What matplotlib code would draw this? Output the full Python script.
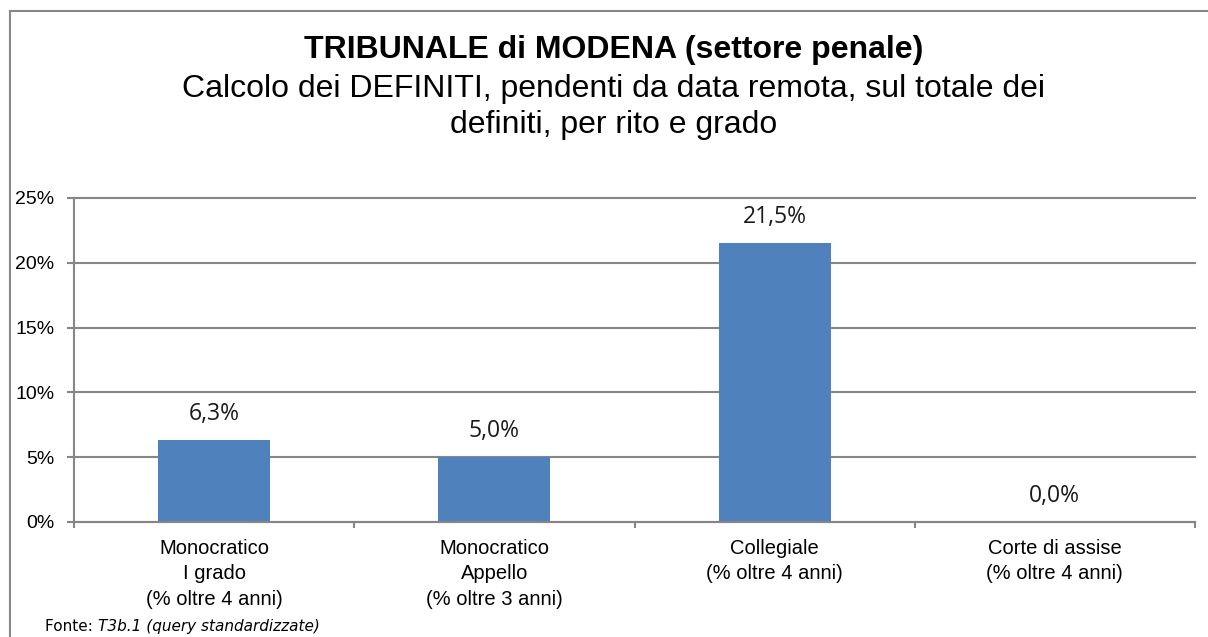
import matplotlib
matplotlib.use("Agg")
import matplotlib.pyplot as plt
from matplotlib.lines import Line2D
from matplotlib.ticker import FuncFormatter
from matplotlib.transforms import offset_copy

categories = ["Monocratico\nI grado\n(% oltre 4 anni)",
              "Monocratico\nAppello\n(% oltre 3 anni)",
              "Collegiale\n(% oltre 4 anni)",
              "Corte di assise\n(% oltre 4 anni)"]
values = [6.3, 5.0, 21.5, 0.0]
yticks = [0, 5, 10, 15, 20, 25]
title = "TRIBUNALE di MODENA (settore penale)"
subtitle_lines = ["Calcolo dei DEFINITI, pendenti da data remota, sul totale dei",
                  "definiti, per rito e grado"]

W, H = 1208, 637
fig = plt.figure(figsize=(W / 100, H / 100), dpi=100)
fig.patch.set_facecolor("white")

grid_col = "#868686"
ax = fig.add_axes([74 / W, 1 - 522 / H, (1195 - 74) / W, (522 - 198) / H])
x = list(range(len(categories)))
ax.bar(x, values, width=0.4, color="#4F81BD", zorder=3)
ax.set_xlim(-0.5, len(categories) - 0.5)
ax.set_ylim(0, 25)
ax.set_yticks(yticks)
ax.yaxis.set_major_formatter(FuncFormatter(lambda v, p: f"{int(v)}%"))
ax.grid(axis="y", color=grid_col, lw=1.5, zorder=0)
for gl in ax.get_ygridlines():
    gl.set_clip_on(False)
for s in ["top", "right"]:
    ax.spines[s].set_visible(False)
for s in ["left", "bottom"]:
    ax.spines[s].set_color(grid_col)
    ax.spines[s].set_linewidth(1.5)
ax.spines["bottom"].set_zorder(4)

ax.set_xticks(x)
ax.set_xticklabels(categories, fontsize=14.5, family="Liberation Sans", linespacing=1.44)
ax.tick_params(axis="x", length=0, pad=12)
ax.set_xticks([i - 0.5 for i in range(len(categories) + 1)], minor=True)
ax.tick_params(axis="x", which="minor", length=4.5, width=1.5, color=grid_col, direction="out")
ax.tick_params(axis="y", length=5, width=1.5, color=grid_col, labelsize=14, pad=9)
for t in ax.get_yticklabels():
    t.set_family("Liberation Sans")

for xi, v in zip(x, values):
    ax.annotate(f"{v:.1f}%".replace(".", ","), (xi, v), xytext=(0, 14.5),
                textcoords="offset points", ha="center", va="baseline",
                fontsize=16.5, family="Open Sans", color="#1a1a1a")

cx = 614 / W
fig.text(cx, 1 - 58 / H, title, ha="center", va="baseline",
         fontsize=23, fontweight="bold", family="Liberation Sans")
fig.text(cx, 1 - 97 / H, subtitle_lines[0], ha="center", va="baseline",
         fontsize=23, family="Liberation Sans")
fig.text(cx, 1 - 133 / H, subtitle_lines[1], ha="center", va="baseline",
         fontsize=23, family="Liberation Sans")

t1 = fig.text(45 / W, 1 - 631 / H, "Fonte: ", ha="left", va="baseline",
              fontsize=11, family="DejaVu Sans")
renderer = fig.canvas.get_renderer()
bb = t1.get_window_extent(renderer=renderer)
fig.text(bb.x1 / W, 1 - 631 / H, "T3b.1 (query standardizzate)", ha="left", va="baseline",
         fontsize=11, family="DejaVu Sans", style="italic")

fig.add_artist(Line2D([9.5 / W, 9.5 / W], [0, 1 - 10.5 / H], transform=fig.transFigure,
                      color=grid_col, lw=1.5))
fig.add_artist(Line2D([9.5 / W, 1], [1 - 10.5 / H, 1 - 10.5 / H], transform=fig.transFigure,
                      color=grid_col, lw=1.5))

fig.savefig("out.png", dpi=100, facecolor="white")
